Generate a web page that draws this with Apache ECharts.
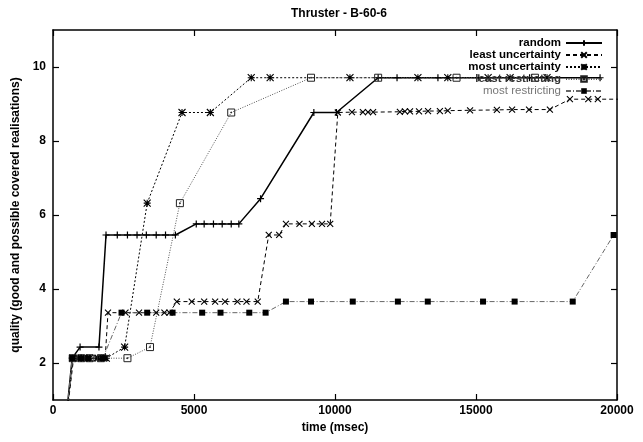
<!DOCTYPE html>
<html>
<head>
<meta charset="utf-8">
<script src="https://cdn.jsdelivr.net/npm/echarts@6/dist/echarts.min.js"></script>
<style>
  html, body { margin: 0; padding: 0; background: #fff; }
  #chart { width: 643px; height: 442px; }
</style>
</head>
<body>
<div id="chart"></div>
<script>
// Quality over time for the five selection strategies, [time (msec), quality]
const randomData = [[400,0],[680,2.13],[960,2.43],[1630,2.43],[1880,5.46],[2280,5.46],[2640,5.46],[2980,5.46],[3310,5.46],[3660,5.46],[3990,5.46],[4340,5.46],[5080,5.76],[5360,5.76],[5690,5.76],[6000,5.76],[6320,5.76],[6590,5.76],[7360,6.44],[9250,8.77],[10050,8.77],[11530,9.71],[12200,9.71],[13650,9.71],[15100,9.71],[16900,9.71],[19400,9.71]];
const leastUncertaintyData = [[400,0],[730,2.13],[1000,2.13],[1250,2.13],[1550,2.13],[1850,2.13],[1950,3.36],[2570,3.36],[3050,3.36],[3660,3.36],[3950,3.36],[4130,3.36],[4390,3.66],[4920,3.66],[5360,3.66],[5750,3.66],[6100,3.66],[6540,3.66],[6860,3.66],[7260,3.66],[7650,5.46],[8020,5.46],[8260,5.76],[8740,5.76],[9180,5.76],[9540,5.76],[9830,5.76],[10100,8.77],[10600,8.78],[10990,8.78],[11170,8.78],[11350,8.78],[12300,8.79],[12480,8.8],[12660,8.8],[12980,8.8],[13300,8.81],[13720,8.81],[14000,8.82],[14790,8.83],[15740,8.84],[16280,8.85],[16880,8.85],[17620,8.85],[18330,9.13],[18980,9.13],[19320,9.13],[20300,9.13]];
const mostUncertaintyData = [[400,0],[700,2.13],[900,2.13],[1100,2.13],[1300,2.13],[1600,2.13],[1890,2.13],[2540,2.43],[3340,6.32],[4575,8.77],[5580,8.77],[7030,9.71],[7700,9.71],[10530,9.71],[12940,9.71],[14000,9.71],[15430,9.71],[16210,9.71],[17520,9.71]];
const leastRestrictingData = [[400,0],[700,2.13],[1000,2.13],[1300,2.13],[1700,2.13],[2640,2.13],[3440,2.43],[4500,6.32],[6320,8.77],[9150,9.71],[11530,9.71],[14310,9.71],[17090,9.71]];
const mostRestrictingData = [[400,0],[680,2.13],[1000,2.13],[1250,2.13],[1770,2.13],[2430,3.36],[3340,3.36],[4240,3.36],[5290,3.36],[5940,3.36],[6960,3.36],[7540,3.36],[8260,3.66],[9150,3.66],[10630,3.66],[12230,3.66],[13290,3.66],[15250,3.66],[16370,3.66],[18430,3.66],[19880,5.46]];

const seriesNames = ['random', 'least uncertainty', 'most uncertainty', 'least restricting', 'most restricting'];
const yTicks = [2, 4, 6, 8, 10];

const FONT = 'Liberation Sans, Arial, sans-serif';

// point glyphs
const PLUS = 'path://M0,5L10,5M5,0L5,10';
const CROSS = 'path://M0,0L10,10M0,10L10,0';
const STAR = 'path://M0,0L10,10M0,10L10,0M5,0L5,10M0,5L10,5';
const BOX = 'path://M0,0L10,0L10,10L0,10ZM4.4,4.4L5.6,4.4L5.6,5.6L4.4,5.6Z';

function lineSeries(name, data, opt) {
  return {
    name: name,
    type: 'line',
    data: data,
    clip: true,
    symbol: opt.symbol,
    symbolSize: opt.size,
    showAllSymbol: true,
    animation: false,
    lineStyle: { color: opt.lineColor, width: opt.width, type: opt.dash },
    itemStyle: {
      color: opt.fill,
      borderColor: opt.markColor,
      borderWidth: opt.markWidth
    },
    emphasis: { disabled: true }
  };
}

const series = [
  lineSeries(seriesNames[0], randomData, { symbol: PLUS, size: 7, lineColor: '#000', width: 1.5, dash: 'solid', fill: '#000', markColor: '#000', markWidth: 1.2 }),
  lineSeries(seriesNames[1], leastUncertaintyData, { symbol: CROSS, size: 6, lineColor: '#000', width: 1, dash: [4, 3], fill: '#000', markColor: '#000', markWidth: 1.1 }),
  lineSeries(seriesNames[2], mostUncertaintyData, { symbol: STAR, size: 7, lineColor: '#000', width: 1, dash: [2, 2], fill: '#000', markColor: '#000', markWidth: 1.1 }),
  lineSeries(seriesNames[3], leastRestrictingData, { symbol: BOX, size: 7, lineColor: '#555', width: 1, dash: [1, 1.5], fill: 'none', markColor: '#222', markWidth: 1 }),
  lineSeries(seriesNames[4], mostRestrictingData, { symbol: 'rect', size: 6, lineColor: '#666', width: 1, dash: [5, 2, 1, 2], fill: '#000', markColor: '#000', markWidth: 0 })
];

const legendColors = ['#000', '#000', '#000', '#333', '#777'];
const legendWeights = ['bold', 'bold', 'bold', 'bold', 'normal'];
const legendCenters = [43, 55, 67, 79, 91];
const legends = seriesNames.map((n, i) => ({
  data: [n],
  right: 40,
  top: legendCenters[i] - 6,
  padding: 0,
  align: 'right',
  itemWidth: 36,
  itemHeight: 7,
  itemGap: 0,
  selectedMode: false,
  textStyle: { fontFamily: FONT, fontSize: 11.5, fontWeight: legendWeights[i], color: legendColors[i], lineHeight: 12 }
}));

const axisText = { fontFamily: FONT, fontSize: 12, fontWeight: 'bold', color: '#000' };
const frameLine = { show: true, onZero: false, lineStyle: { color: '#000', width: 1.5 } };
const tickInside = { show: true, inside: true, length: 6, lineStyle: { color: '#000', width: 1.2 } };

const option = {
  backgroundColor: '#fff',
  animation: false,
  title: {
    text: 'Thruster - B-60-6',
    left: 334,
    textAlign: 'center',
    top: 3,
    textStyle: { fontFamily: FONT, fontSize: 12, fontWeight: 'bold', color: '#000' }
  },
  grid: { left: 53, right: 26, top: 30, bottom: 42, containLabel: false },
  legend: legends,
  xAxis: [
    {
      type: 'value', min: 0, max: 20000, interval: 5000,
      name: 'time (msec)', nameLocation: 'middle', nameGap: 22,
      nameTextStyle: axisText,
      axisLine: frameLine, axisTick: tickInside,
      axisLabel: Object.assign({ margin: 5, formatter: v => String(v) }, axisText),
      splitLine: { show: false }
    },
    {
      type: 'value', position: 'top', min: 0, max: 20000, interval: 5000,
      axisLine: frameLine, axisTick: tickInside,
      axisLabel: { show: false }, splitLine: { show: false }
    }
  ],
  yAxis: [
    {
      type: 'value', min: 1, max: 11,
      name: 'quality (good and possible covered realisations)',
      nameLocation: 'middle', nameGap: 29, nameRotate: 90,
      nameTextStyle: axisText,
      axisLine: frameLine,
      axisTick: Object.assign({ customValues: yTicks }, tickInside),
      axisLabel: Object.assign({ margin: 7, customValues: yTicks }, axisText),
      splitLine: { show: false }
    },
    {
      type: 'value', position: 'right', min: 1, max: 11,
      axisLine: frameLine,
      axisTick: Object.assign({ customValues: yTicks }, tickInside),
      axisLabel: { show: false }, splitLine: { show: false }
    }
  ],
  series: series
};

const chart = echarts.init(document.getElementById('chart'), null, { renderer: 'canvas' });
chart.setOption(option);
</script>
</body>
</html>
